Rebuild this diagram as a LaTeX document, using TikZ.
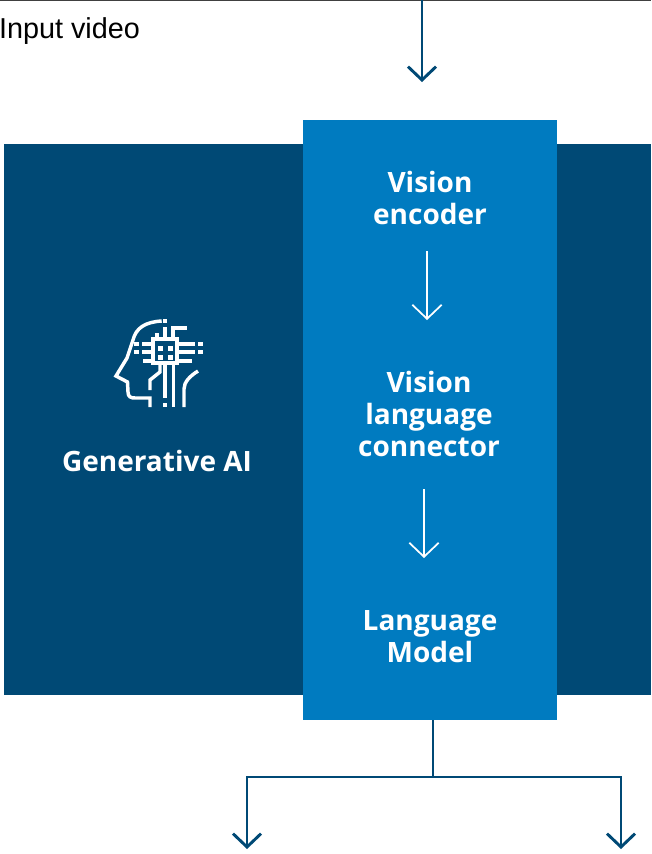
\documentclass[tikz,border=0pt]{standalone}
\usepackage{fontspec}
\setmainfont{Open Sans}
\newfontfamily\inputfont{Liberation Sans}
\usetikzlibrary{arrows.meta}
\definecolor{darkblue}{HTML}{004975}
\definecolor{midblue}{HTML}{007BC0}
\tikzset{
  panel/.style={shape=rectangle,inner sep=0pt,outer sep=0pt},
  label/.style={text=white,align=center,font=\fontsize{21}{24}\selectfont\bfseries},
  flow/.style={draw=darkblue,line width=2.2pt,-{Straight Barb[length=10pt,width=21pt,line width=2.2pt]}},
  inner/.style={draw=white,line width=1.3pt,-{Straight Barb[length=10.5pt,width=22pt,line width=1.3pt]}},
  trunk/.style={draw=darkblue,line width=2.2pt},
  icon/.style={draw=white,line width=2.6pt}
}
\begin{document}
\begin{tikzpicture}[x=0.75pt,y=-0.75pt]
\useasboundingbox (0,0) rectangle (651,854);
\draw [draw=black!75,line width=1pt] (0,0.5) -- (651,0.5);
\node (back) at (327.5,419.5) [panel,fill=darkblue,minimum width=485.25pt,minimum height=413.25pt]{};
\node (front) at (430,420) [panel,fill=midblue,minimum width=190.5pt,minimum height=450pt]{};
\node (input) at (69.5,31) [font=\inputfont\fontsize{21.6}{24}\selectfont,text=black,inner sep=0pt]{Input video};
\node (genai) at (157,461) [label]{Generative AI};
\node (encoder) at (430,198) [label]{Vision\\encoder};
\node (connector) at (429,414) [label]{Vision\\language\\connector};
\node (model) at (430,637) [label]{Language\\Model};
\coordinate (top) at (422,0);
\coordinate (topend) at (422,82);
\coordinate (down1) at (427,251);
\coordinate (down1end) at (427,320);
\coordinate (down2) at (424,489);
\coordinate (down2end) at (424,558);
\coordinate (out) at (433,720);
\coordinate (fork) at (433,777);
\coordinate (leftend) at (247,849);
\coordinate (rightend) at (621,849);
\draw [flow] (top) to (topend);
\draw [inner] (down1) to (down1end);
\draw [inner] (down2) to (down2end);
\draw [trunk] (out) to (fork);
\draw [flow] (fork) -| (leftend);
\draw [flow] (fork) -| (rightend);
% icon
\draw [icon] (161.7,321) .. controls (145,322) and (136,328) .. (133,340) -- (127,358) -- (116,376) -- (127.5,382) -- (128,392) .. controls (128,397) and (131,398) .. (135,398) -- (150,398) -- (150,407);
\draw [icon] (153,339) rectangle (177,363);
\foreach \x in {160.7,170} \foreach \y in {348,357}
  \fill [white] (\x-2.5,\y-2.5) rectangle (\x+2.5,\y+2.5);
\draw [icon] (153,344) -- (142,344);
\draw [icon] (153,352) -- (142,352);
\draw [icon] (153,361) -- (143,361);
\draw [icon] (177,344) -- (195,344);
\draw [icon] (177,352) -- (195,352);
\draw [icon] (177,361) -- (192,361);
\draw [icon] (134,344) -- (139,344);
\draw [icon] (134,352) -- (139,352);
\draw [icon] (198,344) -- (203,344);
\draw [icon] (198,352) -- (203,352);
\draw [icon] (157,339) -- (157,333);
\draw [icon] (165,339) -- (165,327);
\draw [icon] (165,319) -- (165,323);
\draw [icon] (173,339) -- (173,328) -- (187,328);
\draw [icon] (160,363) -- (160,372) -- (150,380) -- (150,390);
\draw [icon] (165,363) -- (165,398);
\draw [icon] (165,403) -- (165,407);
\draw [icon] (173.5,363) -- (173.5,407);
\draw [icon] (184,407) -- (184,389) .. controls (184,382) and (190,376) .. (198,371);
\end{tikzpicture}
\end{document}
